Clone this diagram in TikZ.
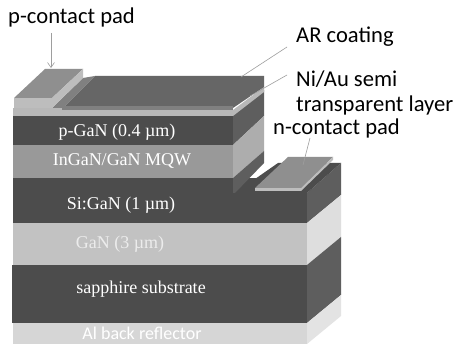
\documentclass[tikz,border=0pt]{standalone}
\usetikzlibrary{arrows.meta}
\usepackage{fontspec}
\setmainfont{Liberation Serif}
\setsansfont{Carlito}
\newcommand{\um}{\textmu m}
\definecolor{dk}{gray}{0.30}
\definecolor{dks}{gray}{0.37}
\definecolor{mid}{gray}{0.60}
\definecolor{mids}{gray}{0.68}
\definecolor{lt}{gray}{0.76}
\definecolor{lts}{gray}{0.87}
\definecolor{alf}{gray}{0.84}
\definecolor{als}{gray}{0.89}
\definecolor{topf}{gray}{0.40}
\definecolor{band}{gray}{0.72}
\definecolor{gut}{gray}{0.50}
\definecolor{pad}{gray}{0.56}
\definecolor{padl}{gray}{0.74}
\definecolor{lead}{gray}{0.62}
\tikzset{
  lab/.style={font=\sffamily\fontsize{22.6}{24}\selectfont,text=black,anchor=west,inner sep=0pt},
  lay/.style={font=\fontsize{18}{20}\selectfont,text=white,inner sep=0pt},
  leadl/.style={draw=lead,line width=0.6pt},
}
\begin{document}
\begin{tikzpicture}[x=1pt,y=-1pt]
\useasboundingbox (0,0) rectangle (456,344);
\fill[white] (0,0) rectangle (456,344);
% front layers
\fill[band] (13,108) rectangle (233,116);
\fill[dk] (13,116) rectangle (233,145);
\fill[mid] (13,145) rectangle (233,178);
\fill[dk] (13,178) rectangle (307,223);
\fill[lt] (13,223) rectangle (307,265);
\fill[dk] (12,265) rectangle (307,323);
\fill[alf] (13,323) rectangle (307,344);
% right side
\fill[dks] (307,193) -- (341,163) -- (341,195) -- (307,223) -- cycle;
\fill[lts] (307,223) -- (341,195) -- (341,237) -- (307,265) -- cycle;
\fill[dks] (307,265) -- (341,237) -- (341,295) -- (307,323) -- cycle;
\fill[als] (307,323) -- (341,295) -- (341,316) -- (307,344) -- cycle;
% lower platform
\fill[dk] (235,193) -- (278,163) -- (341,163) -- (307,193) -- cycle;
% mesa side
\fill[dks] (233,114) -- (264,90) -- (264,116) -- (233,145) -- cycle;
\fill[mids] (233,145) -- (264,116) -- (264,151) -- (233,178) -- cycle;
\fill[dks] (233,178) -- (264,151) -- (264,163) -- (235,193) -- (233,193) -- cycle;
\fill[band] (233,110) -- (264,87) -- (264,92) -- (233,116) -- cycle;
% mesa top
\fill[gut] (62,106) rectangle (233,110);
\fill[topf] (65,106) -- (95,76) -- (264,76) -- (264,87) -- (233,108) -- (233,106) -- cycle;
\fill[gut] (52,108) -- (83,78) -- (95,76) -- (65,106) -- (62,108) -- cycle;
% p pad
\fill[pad] (14,98) -- (45,69) -- (83,69) -- (52,98) -- cycle;
\fill[padl] (14,98) rectangle (52,108);
\fill[padl] (52,98) -- (83,69) -- (83,78) -- (52,108) -- cycle;
% n pad
\fill[pad] (255,188) -- (288,157) -- (333,157) -- (301,188) -- cycle;
\fill[padl] (255,188) rectangle (301,191);
\fill[padl] (301,188) -- (333,157) -- (333,160) -- (301,191) -- cycle;
% layer labels
\node[lay] (n1) at (117,132) {p-GaN (0.4 \um)};
\node[lay] (n2) at (122,161) {InGaN/GaN MQW};
\node[lay] (n3) at (121,205) {Si:GaN (1 \um)};
\node[lay,text=gray!15] (n4) at (120,244) {GaN (3 \um)};
\node[lay] (n5) at (141,289) {sapphire substrate};
\node[lay,font=\sffamily\fontsize{18}{20}\selectfont,text=white] (n6) at (142,333) {Al back reflector};
% callouts
\node[lab] (pl) at (8,17) {p-contact pad};
\node[lab] (ar) at (296,37) {AR coating};
\node[lab] (ni) at (296,79) {Ni/Au semi};
\node[lab] (tr) at (296,105) {transparent layer};
\node[lab] (nl) at (273,128) {n-contact pad};
\coordinate (pa) at (51,68);
\coordinate (pb) at (51,33);
\draw[leadl,-{Straight Barb[length=5pt,width=7pt]}] (pb) -- (pa);
\coordinate (ara) at (287,47);
\coordinate (arb) at (241,77);
\draw[leadl] (ara) -- (arb);
\coordinate (nia) at (287,75);
\coordinate (nib) at (250,96);
\draw[leadl] (nia) -- (nib);
\coordinate (nla) at (310,138);
\coordinate (nlb) at (303,165);
\draw[leadl] (nla) -- (nlb);
\end{tikzpicture}
\end{document}
